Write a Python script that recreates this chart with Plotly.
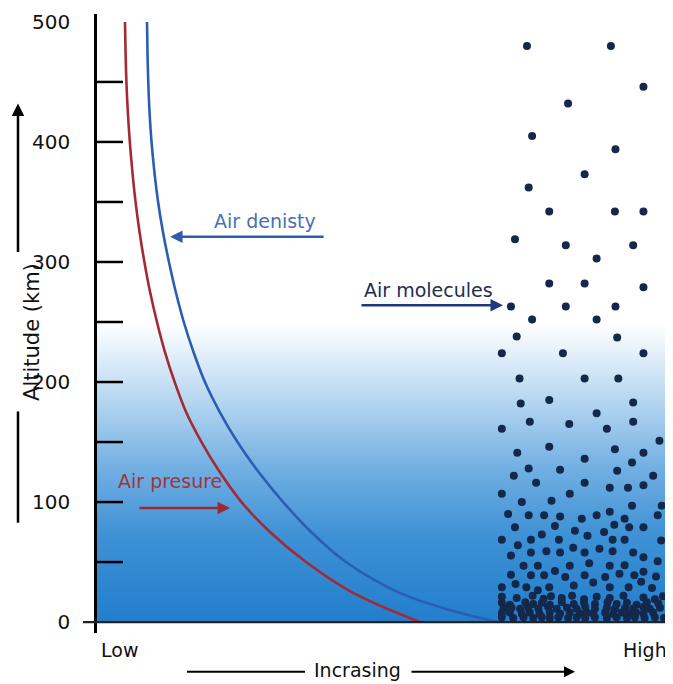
import plotly.graph_objects as go

# ---------------- data (x: relative scale Low=0 .. High=100, y: altitude km) -------------
PRESSURE_ALT = [0, 25, 50, 75, 100, 125, 150, 175, 200, 225, 250, 275, 300, 325, 350, 375, 400,
                425, 450, 475, 500]
PRESSURE_X = [56.57, 44.6, 36.6, 30.3, 25.3, 21.5, 18.3, 15.6, 13.6, 11.9, 10.5, 9.3,
              8.3, 7.45, 6.75, 6.2, 5.75, 5.4, 5.15, 5.0, 4.90]

DENSITY_ALT = [0, 10, 25, 50, 75, 100, 125, 150, 175, 200, 225, 250, 275, 300, 325, 350, 375, 400,
               425, 450, 475, 500]
DENSITY_X = [70.2, 61.8, 52.7, 43.6, 37.5, 32.6, 28.3, 24.6, 21.5, 18.9, 16.9, 15.2,
             13.8, 12.6, 11.55, 10.7, 10.05, 9.55, 9.2, 8.98, 8.84, 8.76]

MOLECULE_UPPER_X = [75.3, 90.0, 95.7, 82.5, 76.2, 90.8, 85.4, 75.6, 79.2, 90.7, 95.7, 73.2, 82.1, 93.9,
                    87.5, 79.2, 85.4, 95.7, 72.5, 82.1, 90.8, 76.2, 87.5, 73.5, 91.1,
                    70.9, 81.6, 95.7, 74.0, 85.4, 91.3, 74.2, 79.2, 93.9, 87.5, 75.8, 82.7, 93.9,
                    70.9, 89.3, 98.5, 73.6, 79.2, 90.7, 95.7, 85.4, 93.7, 75.6, 81.1, 91.1, 73.0,
                    97.4, 76.9, 85.4, 70.9, 82.8, 89.8, 93.0, 95.7, 74.4, 79.6, 93.7, 98.9]
MOLECULE_UPPER_ALT = [480, 480, 446, 432, 405, 394, 373, 362, 342, 342, 342, 319, 314, 314,
                      303, 282, 282, 279, 263, 263, 263, 252, 252, 238, 237,
                      224, 224, 224, 203, 203, 203, 182, 185, 183, 174, 167, 165, 167,
                      161, 161, 151, 141, 146, 144, 141, 136, 133, 128, 127, 126, 122,
                      122, 116, 116, 107, 107, 112, 112, 114, 100, 101, 97, 97]

MOLECULE_MID_X = [72.0, 75.6, 78.3, 81.1, 84.9, 87.5, 89.8, 92.4, 98.2, 73.2, 80.2, 83.7, 90.6,
                  93.2, 95.7, 77.9, 85.9, 88.8, 70.9, 76.0, 80.9, 90.3, 92.4, 98.8, 73.7, 83.4,
                  88.0, 76.0, 78.7, 81.1, 85.4, 90.3, 93.9, 72.5, 95.7, 74.7, 77.2, 82.8, 86.2,
                  89.8, 92.4, 98.2, 72.5, 76.0, 78.3, 80.2, 82.0, 85.4, 89.0, 91.5, 94.1, 95.7,
                  97.9, 73.3, 75.2, 77.2, 79.2, 83.5, 86.9, 89.8, 93.1, 95.3, 97.2, 70.9]
MOLECULE_MID_ALT = [90, 89, 89, 88, 86, 89, 92, 86, 89, 79, 80, 76, 81,
                    79, 79, 73, 72, 75, 68.5, 68.5, 68.5, 68.5, 68.5, 68, 64, 62,
                    61, 58, 59, 58, 58, 59, 58, 55.5, 54, 47, 47, 47, 49,
                    47, 47.4, 50.7, 39.5, 39, 39, 42.5, 37.5, 39, 37.5, 40.3, 39, 42,
                    38, 31.7, 29, 26.5, 29, 30.4, 33, 29, 29, 33.7, 28.4, 29]

MOLECULE_LOW_X = [70.9, 73.5, 76.3, 78.2, 79.5, 81.4, 83.2, 85.3, 87.5, 89.8, 92.2, 95.7, 97.7, 99.1,
                  70.9, 72.3, 75.0, 76.4, 77.9, 79.3, 81.4, 83.5, 85.3, 87.2, 89.4, 91.0, 92.8, 94.5, 96.3, 98.3,
                  71.2, 72.6, 74.1, 75.5, 77.3, 79.0, 80.5, 82.3, 84.0, 85.5, 87.2, 89.3, 90.7, 92.5, 93.9, 95.7, 96.8, 98.6,
                  70.9, 72.3, 74.4, 75.8, 77.5, 79.3, 81.1, 82.8, 84.6, 85.8, 86.9, 89.0, 90.4, 91.9, 93.2, 94.4, 95.7, 97.4,
                  70.9, 72.9, 74.7, 76.4, 77.9, 79.3, 80.8, 82.5, 84.0, 85.5, 87.2, 89.3, 91.0, 92.8, 94.2, 95.9, 97.7, 99.3]
MOLECULE_LOW_ALT = [21, 20, 22, 19.5, 21.5, 20, 22, 19, 21, 20, 22, 20.5, 19, 21.5,
                    16, 14.5, 16.5, 15, 16, 14.5, 16.5, 15, 16, 15, 16.5, 15, 16, 14.5, 16.5, 15.5,
                    11.5, 12, 11, 12, 11, 12.5, 11, 12, 11, 12.5, 11, 12, 11, 12, 11, 12.5, 11, 12,
                    7.5, 8, 7, 8, 7, 8, 7, 8, 7, 8, 7, 8, 7, 8, 7, 8, 7, 8,
                    4, 3.5, 4, 3.5, 4, 3.5, 4, 3.5, 4, 3.5, 4, 3.5, 4, 3.5, 4, 3.5, 4, 3.5]

ALT_TICK_LABELS = [0, 100, 200, 300, 400, 500]
ALT_INNER_TICKS = [50, 100, 150, 200, 250, 300, 350, 400, 450]

# ---------------- styling -------------
FONT = "DejaVu Sans"
RED = "#a32a33"
BLUE = "#2b5eb2"
DOT = "#13284a"
X_RANGE = [0, 100]
Y_RANGE = [-9.1, 506.6]
GRAD_TOP = 248

# page offset: the html body has an 8px margin, the plot area sits at page x 97..668, y 10..633
PLOT_W, PLOT_H = 571, 623


def px_x(page_x):
    return (page_x - 97) / PLOT_W


def px_y(page_y):
    return (633 - page_y) / PLOT_H


def alt_paper(alt):
    return (alt - Y_RANGE[0]) / (Y_RANGE[1] - Y_RANGE[0])


fig = go.Figure()

# background gradient (sky)
fig.add_trace(go.Scatter(
    x=[X_RANGE[0], X_RANGE[1], X_RANGE[1], X_RANGE[0], X_RANGE[0]],
    y=[0, 0, GRAD_TOP, GRAD_TOP, 0],
    mode="lines", line=dict(width=0), fill="toself",
    fillgradient=dict(type="vertical", start=0, stop=GRAD_TOP,
                      colorscale=[[0, "rgb(33,125,203)"], [0.3, "rgb(62,145,213)"],
                                  [0.52, "rgb(112,174,226)"], [0.7, "rgb(166,205,237)"],
                                  [0.85, "rgb(210,230,246)"], [0.95, "rgb(238,246,252)"],
                                  [1, "rgb(252,253,255)"]]),
    hoverinfo="skip", showlegend=False))

fig.add_trace(go.Scatter(x=PRESSURE_X, y=PRESSURE_ALT, mode="lines",
                         line=dict(color=RED, width=2.6, shape="spline", smoothing=1.0),
                         showlegend=False))
fig.add_trace(go.Scatter(x=DENSITY_X, y=DENSITY_ALT, mode="lines",
                         line=dict(color=BLUE, width=2.6, shape="spline", smoothing=1.0),
                         showlegend=False))

for xs, ys in [(MOLECULE_UPPER_X, MOLECULE_UPPER_ALT), (MOLECULE_MID_X, MOLECULE_MID_ALT),
               (MOLECULE_LOW_X, MOLECULE_LOW_ALT)]:
    fig.add_trace(go.Scatter(x=xs, y=ys, mode="markers",
                             marker=dict(color=DOT, size=8, line=dict(width=0)),
                             showlegend=False))

shapes = []
# inner ticks on altitude axis
for t in ALT_INNER_TICKS:
    shapes.append(dict(type="line", xref="x", yref="y", x0=0, x1=4.55, y0=t, y1=t,
                       line=dict(color="black", width=2.5)))
# baseline (x-axis) with small outer tick at 0
shapes.append(dict(type="line", xref="paper", yref="paper", x0=px_x(83), x1=px_x(673),
                   y0=alt_paper(0), y1=alt_paper(0), line=dict(color="#222", width=2.2)))
# Altitude arrow lower segment
shapes.append(dict(type="line", xref="paper", yref="paper", x0=px_x(18), x1=px_x(18),
                   y0=px_y(522), y1=px_y(410), line=dict(color="black", width=2.5)))
# Incrasing left segment
shapes.append(dict(type="line", xref="paper", yref="paper", x0=px_x(187), x1=px_x(305),
                   y0=px_y(672), y1=px_y(672), line=dict(color="black", width=2.2)))

annotations = [
    # altitude arrow top
    dict(xref="paper", yref="paper", x=px_x(18), y=px_y(100), ax=0, ay=150,
         text="", showarrow=True, arrowhead=2, arrowsize=1, arrowwidth=2.5, arrowcolor="black"),
    dict(xref="paper", yref="paper", x=px_x(18), y=px_y(330), text="Altitude (km)",
         textangle=-90, showarrow=False, font=dict(family=FONT, size=21, color="#111")),
    dict(xref="paper", yref="paper", x=px_x(99), y=px_y(650), xanchor="left", yanchor="middle",
         text="Low", showarrow=False, font=dict(family=FONT, size=19, color="#111")),
    dict(xref="paper", yref="paper", x=px_x(669), y=px_y(650), xanchor="right", yanchor="middle",
         text="High", showarrow=False, font=dict(family=FONT, size=19, color="#111")),
    dict(xref="paper", yref="paper", x=px_x(357), y=px_y(670), yanchor="middle",
         text="Incrasing", showarrow=False, font=dict(family=FONT, size=19, color="#111")),
    dict(xref="paper", yref="paper", x=px_x(575), y=px_y(672), ax=-165, ay=0,
         text="", showarrow=True, arrowhead=2, arrowsize=1, arrowwidth=2.2, arrowcolor="black"),
    # curve labels
    dict(xref="x", yref="y", x=29.4, y=334, text="Air denisty", showarrow=False,
         font=dict(family=FONT, size=19, color="#4a6fb8")),
    dict(xref="x", yref="y", x=12.8, y=321, ax=155, ay=0, text="", showarrow=True,
         arrowhead=2, arrowsize=1, arrowwidth=2.5, arrowcolor="#2f5caa"),
    dict(xref="x", yref="y", x=58.1, y=277, text="Air molecules", showarrow=False,
         font=dict(family=FONT, size=19, color="#1d2d55")),
    dict(xref="x", yref="y", x=71.1, y=264, ax=-143, ay=0, text="", showarrow=True,
         arrowhead=2, arrowsize=1, arrowwidth=2.5, arrowcolor="#1f3a78"),
    dict(xref="x", yref="y", x=12.8, y=117.5, text="Air presure", showarrow=False,
         font=dict(family=FONT, size=19, color="#a3343e")),
    dict(xref="x", yref="y", x=23.3, y=95, ax=-92, ay=0, text="", showarrow=True,
         arrowhead=2, arrowsize=1, arrowwidth=2.5, arrowcolor="#9c2a35"),
]

fig.update_layout(
    width=665, height=676,
    margin=dict(l=89, r=5, t=2, b=51),
    paper_bgcolor="white", plot_bgcolor="white",
    showlegend=False,
    font=dict(family=FONT, size=19, color="#111"),
    xaxis=dict(range=X_RANGE, showgrid=False, zeroline=False, showticklabels=False,
               showline=False, ticks="", fixedrange=True),
    yaxis=dict(range=Y_RANGE, showgrid=False, zeroline=False, showline=True,
               linecolor="black", linewidth=2.5, ticks="",
               tickvals=ALT_TICK_LABELS, ticktext=[str(v) for v in ALT_TICK_LABELS],
               tickfont=dict(family=FONT, size=20, color="#111"),
               ticklabelstandoff=20, ticklabeloverflow="allow", fixedrange=True),
    shapes=shapes,
    annotations=annotations,
)

fig.write_html("out.html")
